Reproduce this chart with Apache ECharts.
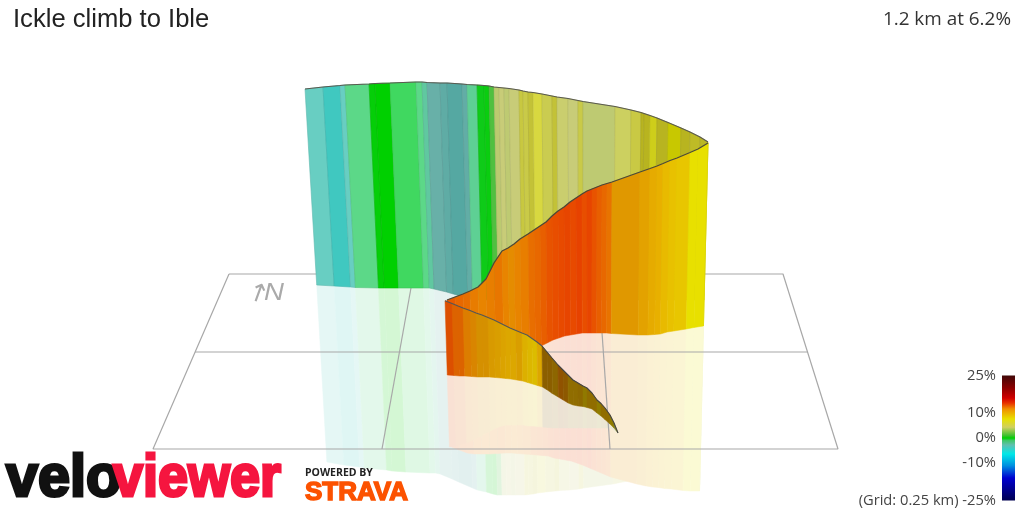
<!DOCTYPE html>
<html><head><meta charset="utf-8">
<style>html,body{margin:0;padding:0;background:#fff}#c{width:1024px;height:512px}</style>
<script src="https://cdn.jsdelivr.net/npm/echarts@6/dist/echarts.min.js"></script>
</head><body><div id="c"></div>
<script>
var titleText = 'Ickle climb to Ible';
var summaryText = '1.2 km at 6.2%';
var legendTicks = [25, 10, 0, -10, -25];
var gradeStops = [-25,-16,-11,-6.4,-4.6,-3.6,-3,-2.4,-1.8,-1.2,-0.6,0,0.5,1,2,3,4,4.8,5.5,6,6.5,7.5,8,9,10,11,12,13.5,16,20,25];
var gradeColours = ['#000050','#0000d0','#0090e0','#00e8e8','#40c8c0','#68cec2','#55a8a2','#68b0a8','#60c8a0','#5cd888','#40d860','#00d000','#18c828','#50c040','#b0c868','#c8cc78','#ccd060','#c8c840','#b8b420','#d8d840','#c8c800','#e8e000','#e8c800','#e8b000','#e09800','#e88400','#e86800','#e84800','#d80000','#8c0000','#400808'];
var barGrades = [-25,-16,-11,-6.4,-2.8,-1,0,1,4.3,7.6,11.6,14,16,20,25];
var barColours = ['#000050','#0000d0','#0090e0','#00e8e8','#60c0b0','#40c868','#00d000','#40c030','#d0d060','#e8e000','#f09000','#e83000','#d00000','#8c0000','#400808'];

// Back wall (end of the climb)
var backX = [305,323,340,345,369,375,390,416,422,427,440,447,462,467,477,484,489,494,499,504,509,519,523,528,533,542,552,557,568,578,583,615,631,641,644,650,657,668,681,690,700,708];
var backTop = [89,87,85.5,85,84,83.5,83,82,82,82.5,83,83,84,84.5,85,85.5,86,87,87.5,88,88.5,90,91,92,92.5,94,96,97,98.5,100.5,101.5,106.5,110,112.5,113.5,115.5,118,122.5,128,132,137,142];
var backFoot = [285,286,287,287.5,288,288,288,288,288,289,292,294,298,300,300,300,300,300,300,300,300,300,300,300,300,300,300,300,300,300,300,300,300,300,300,300,300,300,300,300,300,300];
var backMirror = [462,465,467,468,470,471,472,473,473,474,479,482,488,490,492,494,495,495,495,495,495,495,494.5,494,493,492,491,490.5,490,489,488,484,481,480,480,480,480,480,480,480,480,480];
var backGrade = [-3.6,-4.6,-3.6,-1.2,0.1,0,-0.6,-1.2,-1.8,-2.4,-2.7,-3,-2.6,-1.5,0.3,0.2,1,2.5,3,2.6,3,4.8,4.6,5,6,4.4,5,3.4,3,4.6,2.6,4,4.7,5.5,5.5,6.3,5.5,6.5,5.5,5.6,5.4];

// Front wall (middle of the climb)
var frontX = [447,455,463,470,478,486,494,502,508,514,520,528,534,540,546,552,558,564,570,576,582,587,592,597,602,607,612,640,650,657,663,670,677,690,698,708];
var frontTop = [300,297,294,291,287,279,263,251,248,244,239,234,230,226,222,216,211,207,202,198,194,191,189,187,185,183.5,182,172,168.5,166,163.5,160.5,158,152.5,149,143];
var frontFoot = [372,370,368,365,363,361,358,356,355,353,351,349,347,346,343,340,338,336,335,334,333,333,333,333,333,333,333.5,335,335,334.5,334,332,331,329,327.5,326];
var frontMirror = [447,450,453,454,454,454,453.5,453,453,453.5,454,454.5,455,455.5,456,458,459,460,461,463,465,467,469,471,473,475,477,484,486,487,487.5,488.5,489,490.5,491,491];
var frontGrade = [12.6,12,11.8,11.3,11,11.2,11.5,11,10.6,11,11.2,11.8,12,12.4,13,13.2,13.4,13.6,13.4,13.7,13.2,13.6,13,12.4,12,11.6,10,9.6,9.2,9,8.6,8.3,8.1,7.5,7.5,7.2];

// Near wall, lit part, from the bend to the fold
var nearX = [445,452,458,463,470,476,482,488,494,500,505,510,516,522,527,532,537,542];
var nearTop = [300.7,303.5,306,308,310.5,313,315,317.5,320,323,325.5,328,330.5,333,335,338.5,342,346];
var nearFoot = [375,375.5,376,376,376.5,377,377,377,377.5,378,378.5,379,380,381,382.5,384,385.5,387];
var nearMirror = [447,446,444,443,440,437,434,431,428,426,425,425,425,425,426,426,426.5,427];
var nearGrade = [13,12,12,11,10.6,10,10,9.6,9.4,9.2,9,9,9.4,8.6,8.3,8.1,9];

// Near wall, shaded part, from the fold to the start
var tailX = [542,547,552,558,563,568,573,578,583,587,592,597,601,605,610,614,618];
var tailTop = [346,352,358,365,370,375,380,383,386,388,393,400,403.5,408,415,423,433];
var tailFoot = [387,390,393.5,397,400,403,405,406,406.5,407.5,409,413,416,419.5,424,428,433];
var tailMirror = [427,427.5,428,428,428,428,428,428,428,428,428,428,428,428,428,430,433];
var tailGrade = [10,10,9.5,11,10.5,9,9,9.3,8.2,9,9,8,9,9,8,6,5.5];

// Ground grid
var gridLeftX = [229,153,838,783,229], gridLeftY = [274,449,449,274,274];
var gridMidX = [195,808], gridMidY = [352,352];
var gridV1X = [413.5,382], gridV1Y = [274,449];
var gridV2X = [598,610], gridV2Y = [274,449];

function hex(c){return [parseInt(c.substr(1,2),16),parseInt(c.substr(3,2),16),parseInt(c.substr(5,2),16)];}
function gradeRgb(g){
  var i=0; while(i<gradeStops.length-2 && g>gradeStops[i+1]) i++;
  var t=(g-gradeStops[i])/(gradeStops[i+1]-gradeStops[i]); t=Math.max(0,Math.min(1,t));
  var a=hex(gradeColours[i]),b=hex(gradeColours[i+1]);
  return [0,1,2].map(function(k){return a[k]+(b[k]-a[k])*t;});
}
function css(r){return 'rgb('+r.map(Math.round).join(',')+')';}
function dim(r,f){return r.map(function(v){return v*f;});}
function pale(r,f){return r.map(function(v){return 255-(255-v)*f;});}
// The view leans verticals towards its vanishing column, in proportion to their height
function lean(x,y0,y1){return x+(590-x)*0.042*Math.abs(y1-y0)/200;}

function rows(X,T,F,M,G){
  return G.map(function(g,i){return [X[i],T[i],F[i],M[i],X[i+1],T[i+1],F[i+1],M[i+1],g];});
}
function wallItem(shade,edge){
  return function(p,api){
    var v=function(i){return api.value(i);};
    var f0=lean(v(0),v(1),v(2)), f1=lean(v(4),v(5),v(6));
    var pts=[[v(0),v(1)],[v(4),v(5)],[f1,v(6)],[f0,v(2)]].map(function(c){return api.coord(c);});
    var rgb=dim(gradeRgb(v(8)),shade);
    return {type:'polygon',shape:{points:pts},style:{fill:css(rgb),stroke:css(dim(rgb,edge)),lineWidth:edge<1?0.6:0.5}};
  };
}
function mirrorItem(shade){
  return function(p,api){
    var v=function(i){return api.value(i);};
    var f0=lean(v(0),v(1),v(2)), f1=lean(v(4),v(5),v(6));
    var m0=lean(f0,v(2),v(3)), m1=lean(f1,v(6),v(7));
    var pts=[[f0,v(2)],[f1,v(6)],[m1,v(7)],[m0,v(3)]].map(function(c){return api.coord(c);});
    var col=css(pale(dim(gradeRgb(v(8)),shade),0.17));
    return {type:'polygon',shape:{points:pts},style:{fill:col,stroke:col,lineWidth:0.5}};
  };
}
function custom(item,data){return {type:'custom',renderItem:item,data:data,silent:true,animation:false,clip:false};}
function path(X,Y,colour,width){
  return {type:'line',data:X.map(function(x,i){return [x,Y[i]];}),showSymbol:false,silent:true,animation:false,
    lineStyle:{color:colour,width:width},z:2};
}
var back=rows(backX,backTop,backFoot,backMirror,backGrade);
var front=rows(frontX,frontTop,frontFoot,frontMirror,frontGrade);
var near=rows(nearX,nearTop,nearFoot,nearMirror,nearGrade);
var tail=rows(tailX,tailTop,tailFoot,tailMirror,tailGrade);

var barStops=barGrades.map(function(g,i){return {offset:(25-g)/50,color:barColours[i]};}).reverse();

var series=[
  custom(mirrorItem(1),back),
  custom(mirrorItem(1),front),
  custom(mirrorItem(0.95),near),
  custom(mirrorItem(0.62),tail),
  path(gridLeftX,gridLeftY,'#a8a8a8',1.2),
  path(gridMidX,gridMidY,'#a8a8a8',1.2),
  path(gridV1X,gridV1Y,'#a8a8a8',1.2),
  path(gridV2X,gridV2Y,'#a8a8a8',1.2)
].map(function(s){s.z=2;return s;}).concat([
  custom(wallItem(1,0.9),back),
  custom(wallItem(1,1),front),
  custom(wallItem(0.95,1),near),
  custom(wallItem(0.62,1),tail)
].map(function(s){s.z=3;return s;})).concat([
  path(backX,backTop,'#5a5a50',1.1),
  path(frontX,frontTop,'#4a4a3a',1.3),
  path(nearX,nearTop,'#555',1.1),
  path(tailX,tailTop,'#444',1.1)
].map(function(s){s.z=4;return s;}));
series.push({type:'custom',xAxisIndex:1,yAxisIndex:1,data:[[0,-25,25]],silent:true,animation:false,z:5,
  renderItem:function(p,api){
    var a=api.coord([0,api.value(2)]),b=api.coord([0,api.value(1)]),w=api.size([1,0])[0];
    return {type:'rect',shape:{x:a[0]-w/2,y:a[1],width:w,height:b[1]-a[1]},
      style:{fill:new echarts.graphic.LinearGradient(0,0,0,1,barStops)}};
  }});

function txt(s,x,base,size,weight,fill,family,extra){
  extra=extra||{};
  var st={text:s,x:0,y:0,fontSize:size,fontWeight:weight,fontFamily:family,fill:fill,verticalAlign:'middle',align:'left'};
  var e={type:'text',x:x,y:base-0.3465*size,z:50,silent:true,style:st};
  if(extra.scaleX) e.scaleX=extra.scaleX;
  if(extra.rotation) e.rotation=extra.rotation;
  if(extra.stroke){st.stroke=extra.stroke;st.lineWidth=extra.lineWidth;}
  if(extra.fontStyle) st.fontStyle=extra.fontStyle;
  return e;
}

var chart=echarts.init(document.getElementById('c'),null,{renderer:'canvas'});
chart.setOption({
  animation:false,
  backgroundColor:'#fff',
  title:[
    {text:titleText,left:13,top:7,padding:0,textStyle:{fontFamily:'Liberation Sans',fontSize:25.6,fontWeight:'normal',color:'#222'}},
    {text:summaryText,right:13,top:10,padding:0,textStyle:{fontFamily:'Open Sans',fontSize:18.9,fontWeight:'normal',color:'#333'}}
  ],
  grid:[{left:0,right:0,top:0,bottom:0},{left:1002,width:13,top:375.5,height:125}],
  xAxis:[{type:'value',min:0,max:1024,show:false,gridIndex:0},{type:'category',data:['grade'],show:false,gridIndex:1}],
  yAxis:[{type:'value',min:0,max:512,inverse:true,show:false,gridIndex:0},
    {type:'value',min:-25,max:25,gridIndex:1,position:'left',axisLine:{show:false},axisTick:{show:false},splitLine:{show:false},
     axisLabel:{customValues:legendTicks,margin:6,fontFamily:'Open Sans',fontSize:14.7,color:'#444',
       formatter:function(v){return v===-25?'(Grid: 0.25 km) -25%':v+'%';}}}],
  series:series,
  graphic:[
    txt('\u2191',248,300,25,'normal','#aaaaaa','DejaVu Sans',{rotation:-0.35}),
    txt('N',264,302,24,'normal','#aaaaaa','Liberation Sans',{fontStyle:'italic',scaleX:1.15}),
    txt('velo',6,500.5,60,'bold','#111111','Liberation Sans',{scaleX:0.96,stroke:'#111111',lineWidth:3}),
    txt('viewer',113,500.5,60,'bold','#f5153f','Liberation Sans',{scaleX:0.9,stroke:'#f5153f',lineWidth:3}),
    txt('POWERED BY',305,477,10.5,'bold','#222','Open Sans'),
    txt('STRAVA',305,502,26,'bold','#fc5200','Liberation Sans',{stroke:'#fc5200',lineWidth:1.5})
  ]
});
</script></body></html>
